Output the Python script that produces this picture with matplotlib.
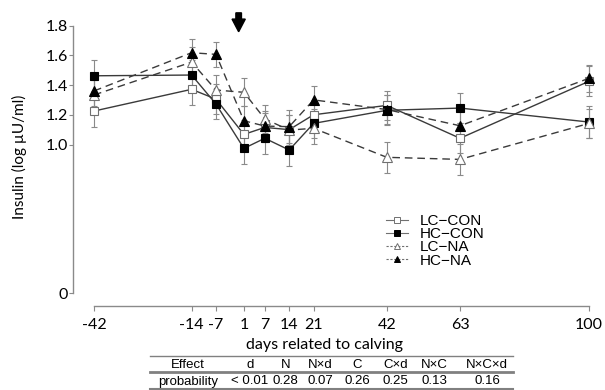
import matplotlib
matplotlib.use("Agg")
import matplotlib.pyplot as plt
from matplotlib.lines import Line2D
from matplotlib.patches import FancyArrow

# ---------------- data ----------------
days = [-42, -14, -7, 1, 7, 14, 21, 42, 63, 100]
xtick_labels = ["-42", "-14", "-7", "1", "7", "14", "21", "42", "63", "100"]

lc_con = [1.225, 1.371, 1.305, 1.068, 1.115, 1.100, 1.200, 1.263, 1.042, 1.425]
hc_con = [1.462, 1.467, 1.272, 0.974, 1.042, 0.963, 1.142, 1.230, 1.245, 1.151]
lc_na = [1.333, 1.554, 1.366, 1.351, 1.172, 1.097, 1.109, 0.914, 0.900, 1.142]
hc_na = [1.360, 1.617, 1.606, 1.160, 1.124, 1.120, 1.300, 1.235, 1.126, 1.445]

lc_con_se = [0.105, 0.105, 0.10, 0.10, 0.10, 0.10, 0.10, 0.10, 0.10, 0.10]
hc_con_se = [0.105, 0.10, 0.10, 0.105, 0.106, 0.108, 0.10, 0.10, 0.10, 0.11]
lc_na_se = [0.10, 0.10, 0.10, 0.095, 0.096, 0.10, 0.106, 0.104, 0.105, 0.10]
hc_na_se = [0.10, 0.09, 0.085, 0.10, 0.10, 0.11, 0.09, 0.10, 0.10, 0.09]

yticks = [0, 1.0, 1.2, 1.4, 1.6, 1.8]
ytick_labels = ["0", "1.0", "1.2", "1.4", "1.6", "1.8"]

effects = ["Effect", "d", "N", "N\u00d7d", "C", "C\u00d7d", "N\u00d7C", "N\u00d7C\u00d7d"]
probabilities = ["probability", "< 0.01", "0.28", "0.07", "0.26", "0.25", "0.13", "0.16"]

calving_day = -0.5

# ---------------- figure ----------------
W, H = 605, 390
fig = plt.figure(figsize=(W / 100, H / 100), dpi=100)

def fx(px):
    return px / W

def fy(py):
    return 1 - py / H

ax_left, ax_right = 73.3, 600
ax_top, ax_bot = 25.5, 293.3
ax = fig.add_axes([fx(ax_left), fy(ax_bot), fx(ax_right - ax_left), (ax_bot - ax_top) / H])

pxday = (589 - 94) / 142.0
ax.set_xlim(-42 - (94 - ax_left) / pxday, 100 + (ax_right - 589) / pxday)
ax.set_ylim(0, 1.8)

axis_font = "Lato"
line_col = "#3a3a3a"
err_col = "#8a8a8a"
open_edge = "#707070"

series = [
    ("LC\u2212CON", lc_con, lc_con_se, "s", "white", open_edge, "-"),
    ("HC\u2212CON", hc_con, hc_con_se, "s", "black", "black", "-"),
    ("LC\u2212NA", lc_na, lc_na_se, "^", "white", open_edge, (0, (5.5, 3.5))),
    ("HC\u2212NA", hc_na, hc_na_se, "^", "black", "black", (0, (5.5, 3.5))),
]

for name, vals, se, mk, fc, ec, ls in series:
    ax.errorbar(days, vals, yerr=se, fmt="none", ecolor=err_col, elinewidth=0.8,
                capsize=2, capthick=0.8, zorder=2)
for name, vals, se, mk, fc, ec, ls in series:
    ax.plot(days, vals, color=line_col, lw=1.0, linestyle=ls, marker=mk,
            markersize=6 if mk == "s" else 6.5, markerfacecolor=fc,
            markeredgecolor=ec, markeredgewidth=0.8, zorder=3)

# arrow marking calving
ax.add_patch(FancyArrow(calving_day, 1.885, 0, 1.758 - 1.885, width=1.6,
                        head_width=3.8, head_length=0.085, length_includes_head=True,
                        color="black", clip_on=False, zorder=5))

# spines
for s in ["top", "right"]:
    ax.spines[s].set_visible(False)
ax.spines["left"].set_bounds(0, 1.8)
ax.spines["left"].set_color("#8a8a8a")
ax.spines["left"].set_linewidth(1.0)
ax.spines["bottom"].set_position(("outward", 9.5))
ax.spines["bottom"].set_bounds(-42, 100)
ax.spines["bottom"].set_color("#8a8a8a")
ax.spines["bottom"].set_linewidth(1.0)

ax.set_xticks(days)
ax.set_xticklabels(xtick_labels, fontsize=11.5, family=axis_font)
ax.set_yticks(yticks)
ax.set_yticklabels(ytick_labels, fontsize=11.5, family=axis_font)
ax.tick_params(axis="x", direction="out", length=3.5, width=0.8, color="#8a8a8a", pad=5)
ax.tick_params(axis="y", direction="out", length=3, width=0.8, color="#8a8a8a", pad=1)

ax.set_xlabel("days related to calving", fontsize=11.5, family=axis_font)
ax.xaxis.set_label_coords((324 - ax_left) / (ax_right - ax_left), -(345 - ax_bot) / (ax_bot - ax_top))
ax.xaxis.label.set_verticalalignment("center")
ax.set_ylabel("Insulin (log \u00b5U/ml)", fontsize=11, family=axis_font)
ax.yaxis.set_label_coords(-(ax_left - 19) / (ax_right - ax_left), (ax_bot - 157) / (ax_bot - ax_top))
ax.yaxis.label.set_verticalalignment("center")

# legend
handles = [Line2D([0], [0], color="#707070", lw=0.8, linestyle="-" if i < 2 else (0, (2, 1.5)),
                  marker=s[3], markersize=4, markerfacecolor=s[4], markeredgecolor=s[5],
                  markeredgewidth=0.7)
           for i, s in enumerate(series)]
leg = fig.legend(handles, [s[0] for s in series], loc="upper left",
                 bbox_to_anchor=(fx(386), fy(214)), frameon=False,
                 prop={"family": "Liberation Sans", "size": 11},
                 handlelength=1.45, handletextpad=0.75, labelspacing=-0.05,
                 borderpad=0, borderaxespad=0)

# table of effects
col_x = [188, 250, 285.5, 320, 357, 395.5, 434, 487]
tfont = {"family": "Liberation Sans", "size": 9.5}
for x, e in zip(col_x, effects):
    fig.text(fx(x), fy(364.5), e, ha="center", va="center", **tfont)
for x, p in zip(col_x, probabilities):
    fig.text(fx(x), fy(381.5), p, ha="center", va="center", **tfont)
tx0, tx1 = 150, 513
for yy, lw in [(355.5, 1.0), (372, 2.0), (388.5, 1.5)]:
    fig.add_artist(Line2D([fx(tx0), fx(tx1)], [fy(yy), fy(yy)], color="#808080", lw=lw))

fig.savefig("out.png", dpi=100)
